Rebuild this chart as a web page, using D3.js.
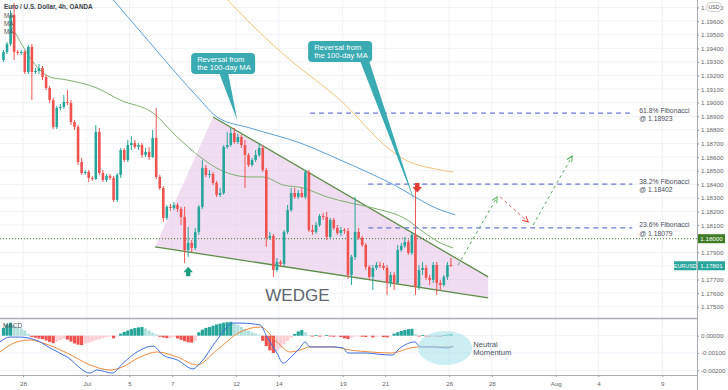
<!DOCTYPE html>
<html><head><meta charset="utf-8">
<script src="https://cdn.jsdelivr.net/npm/d3@7"></script>
<style>
html,body{margin:0;padding:0;background:#fff;}
svg{display:block;font-family:"Liberation Sans",Arial,sans-serif;}
</style></head><body>
<svg id="c" width="728" height="390"></svg>
<script>
// ---------- DATA ----------
// 4h candles, first candle = 25 Jun 2021 00:00, 6 candles per trading day
const openP=[1.19314,1.19373,1.19432,1.19645,1.19373,1.19365,1.19373,1.19226,1.19410,1.19226,
1.19233,1.19255,1.19189,1.19108,1.19020,1.18822,1.18961,1.18969,1.19005,1.18998,
1.18858,1.18822,1.18564,1.18483,1.18491,1.18447,1.18439,1.18785,1.18483,1.18432,
1.18461,1.18447,1.18285,1.18469,1.18652,1.18579,1.18689,1.18704,1.18675,1.18689,
1.18616,1.18638,1.18601,1.18741,1.18454,1.18373,1.18153,1.18234,1.18226,1.18248,
1.18219,1.18160,1.17917,1.17969,1.17932,1.18050,1.18234,1.18520,1.18469,1.18476,
1.18410,1.18322,1.18336,1.18675,1.18689,1.18777,1.18711,1.18748,1.18689,1.18616,
1.18542,1.18579,1.18616,1.18667,1.18505,1.18006,1.18020,1.17770,1.17829,1.17815,
1.18050,1.18211,1.18336,1.18307,1.18336,1.18307,1.18491,1.18064,1.18050,1.18101,
1.18167,1.18160,1.18013,1.18138,1.18079,1.18042,1.18064,1.18057,1.17734,1.17866,
1.18050,1.18006,1.17954,1.17793,1.17719,1.17785,1.17807,1.17800,1.17785,1.17675,
1.17734,1.17675,1.17917,1.17947,1.17976,1.17895,1.18028,1.17646,1.17770,1.17785,
1.17712,1.17697,1.17807,1.17675,1.17660,1.17719,1.17807];
const highP=[1.19387,1.19446,1.19681,1.19733,1.19387,1.19387,1.19387,1.19424,1.19432,1.19255,
1.19285,1.19270,1.19204,1.19123,1.19035,1.18976,1.18991,1.19057,1.19093,1.19020,
1.18873,1.18836,1.18594,1.18505,1.18505,1.18461,1.18836,1.18814,1.18505,1.18476,
1.18476,1.18461,1.18483,1.18667,1.18667,1.18726,1.18755,1.18726,1.18704,1.18704,
1.18667,1.18675,1.18799,1.18961,1.18469,1.18388,1.18248,1.18256,1.18270,1.18263,
1.18234,1.18234,1.18087,1.17991,1.18079,1.18248,1.18579,1.18542,1.18505,1.18491,
1.18425,1.18373,1.18689,1.18785,1.18814,1.18814,1.18770,1.18763,1.18726,1.18630,
1.18594,1.18652,1.18704,1.18689,1.18520,1.18050,1.18035,1.17859,1.17844,1.18064,
1.18248,1.18373,1.18373,1.18358,1.18373,1.18505,1.18505,1.18101,1.18123,1.18182,
1.18189,1.18197,1.18153,1.18153,1.18101,1.18087,1.18079,1.18079,1.17881,1.18307,
1.18079,1.18020,1.17969,1.17807,1.17807,1.17829,1.17829,1.17822,1.17807,1.17756,
1.17756,1.17954,1.17969,1.18013,1.17991,1.18050,1.18358,1.17807,1.17829,1.17807,
1.17734,1.17829,1.17829,1.17697,1.17734,1.17829,1.17859];
const lowP=[1.19299,1.19358,1.19417,1.19314,1.19351,1.19351,1.19211,1.19211,1.19020,1.19211,
1.19211,1.19167,1.19093,1.18998,1.18807,1.18807,1.18946,1.18954,1.18983,1.18836,
1.18799,1.18542,1.18469,1.18469,1.18417,1.18425,1.18432,1.18469,1.18417,1.18417,
1.18432,1.18270,1.18270,1.18447,1.18564,1.18564,1.18652,1.18660,1.18652,1.18594,
1.18601,1.18579,1.18594,1.18439,1.18358,1.18123,1.18138,1.18204,1.18211,1.18197,
1.18101,1.17822,1.17866,1.17903,1.17917,1.18028,1.18219,1.18454,1.18447,1.18395,
1.18307,1.18307,1.18322,1.18660,1.18675,1.18697,1.18697,1.18667,1.18373,1.18528,
1.18528,1.18564,1.18601,1.18491,1.17940,1.17991,1.17719,1.17756,1.17793,1.17800,
1.18035,1.18197,1.18292,1.18292,1.18300,1.18292,1.18050,1.18028,1.18035,1.18087,
1.18138,1.17991,1.17998,1.18064,1.18028,1.18020,1.18035,1.17704,1.17660,1.17844,
1.17991,1.17940,1.17770,1.17697,1.17623,1.17770,1.17785,1.17770,1.17587,1.17646,
1.17623,1.17660,1.17903,1.17932,1.17881,1.17881,1.17587,1.17623,1.17734,1.17697,
1.17660,1.17675,1.17587,1.17623,1.17646,1.17697,1.17793];
const closeP=[1.19373,1.19432,1.19645,1.19373,1.19365,1.19373,1.19226,1.19410,1.19226,1.19233,
1.19255,1.19189,1.19108,1.19020,1.18822,1.18961,1.18969,1.19005,1.18998,1.18858,
1.18822,1.18564,1.18483,1.18491,1.18447,1.18439,1.18785,1.18483,1.18432,1.18461,
1.18447,1.18285,1.18469,1.18652,1.18579,1.18689,1.18704,1.18675,1.18689,1.18616,
1.18638,1.18601,1.18741,1.18454,1.18373,1.18153,1.18234,1.18226,1.18248,1.18219,
1.18160,1.17917,1.17969,1.17932,1.18050,1.18234,1.18520,1.18469,1.18476,1.18410,
1.18322,1.18336,1.18675,1.18689,1.18777,1.18711,1.18748,1.18689,1.18616,1.18542,
1.18579,1.18616,1.18667,1.18505,1.18006,1.18020,1.17770,1.17829,1.17815,1.18050,
1.18211,1.18336,1.18307,1.18336,1.18307,1.18491,1.18064,1.18050,1.18101,1.18167,
1.18160,1.18013,1.18138,1.18079,1.18042,1.18064,1.18057,1.17734,1.17866,1.18050,
1.18006,1.17954,1.17793,1.17719,1.17785,1.17807,1.17800,1.17785,1.17675,1.17734,
1.17675,1.17917,1.17947,1.17976,1.17895,1.18028,1.17646,1.17770,1.17785,1.17712,
1.17697,1.17807,1.17675,1.17660,1.17719,1.17807,1.17801];

// moving averages, sampled at candle indices
const maGreenK=[1.8,13.1,17.9,26.3,32.8,42.1,48.9,55.4,61,69.4,73.1,78.7,84.4,91.1,97.6,104.1,113.7,118.2,123,126.6];
const maGreenV=[1.19586,1.19189,1.19167,1.19108,1.19020,1.18924,1.18748,1.18601,1.18506,1.18454,1.18454,1.18395,1.18373,1.18307,1.18263,1.18226,1.18138,1.18050,1.17969,1.17932];
const maBlueK=[28.6,41.3,55.4,60.1,69.4,83.5,94.8,108.9,123,127.2];
const maBlueV=[1.19828,1.19439,1.19020,1.18895,1.18814,1.18704,1.18579,1.18410,1.18212,1.18175];
const maOrangeK=[61,71.4,80.7,94.8,108.9,111.7,123,126.6];
const maOrangeV=[1.19814,1.19535,1.19314,1.19020,1.18653,1.18601,1.18506,1.18491];

// MACD
const macdK=[-1,1.8,4.6,10.3,13.1,17.9,24.4,26.3,30.6,33.7,38.5,42.1,44.9,48.9,53.4,55.4,60.1,64.7,66.6,72.3,74.2,77,78.7,81.5,83.5,84.9,86.3,92.8,95.6,97,102.4,105.2,109.4,111.7,115.9,117.3,121,124.9,126.6];
const macdV=[-0.00036,-0.00008,-0.00008,-0.00036,-0.00071,-0.00123,-0.00216,-0.00198,-0.00216,-0.00158,-0.00083,-0.00060,-0.00112,-0.00140,-0.00192,-0.00158,-0.00025,0.00073,0.00073,0.00062,-0.00008,-0.00100,-0.00158,-0.00112,-0.00071,-0.00036,-0.00065,-0.00065,-0.00071,-0.00100,-0.00100,-0.00106,-0.00112,-0.00071,-0.00036,-0.00065,-0.00065,-0.00071,-0.00060];
const signalK=[-1,3.8,7.5,11.1,17.9,24.4,30,32.8,38.5,43.2,48.9,54.5,60.1,66.6,72.3,77,80.7,83.5,86.3,92.8,97.6,103.2,109.4,114.5,117.3,126.6];
const signalV=[-0.00094,-0.00036,-0.00025,-0.00042,-0.00100,-0.00169,-0.00198,-0.00187,-0.00123,-0.00094,-0.00123,-0.00169,-0.00083,0.00021,0.00050,-0.00036,-0.00094,-0.00083,-0.00065,-0.00065,-0.00083,-0.00094,-0.00100,-0.00071,-0.00065,-0.00065];
const histV=[0.00045,0.00065,0.00075,0.00060,0.00050,0.00042,0.00030,0.00010,-0.00008,-0.00012,
-0.00016,-0.00020,-0.00028,-0.00036,-0.00043,-0.00035,-0.00025,-0.00018,-0.00022,-0.00034,
-0.00045,-0.00052,-0.00054,-0.00046,-0.00040,-0.00034,-0.00026,-0.00020,-0.00014,-0.00009,
-0.00005,-0.00015,-0.00003,0.00012,0.00022,0.00030,0.00038,0.00044,0.00048,0.00050,
0.00042,0.00030,0.00018,0.00008,-0.00006,-0.00010,-0.00014,-0.00012,-0.00008,-0.00016,
-0.00024,-0.00032,-0.00038,-0.00040,-0.00030,0.00020,0.00035,0.00045,0.00050,0.00058,
0.00065,0.00070,0.00075,0.00078,0.00080,0.00070,0.00062,0.00052,0.00040,0.00030,
0.00020,0.00012,0.00005,-0.00030,-0.00060,-0.00085,-0.00100,-0.00090,-0.00070,-0.00050,
-0.00030,-0.00012,0.00010,0.00025,0.00033,0.00020,0.00004,-0.00004,0.00003,-0.00005,
-0.00004,0.00003,-0.00004,-0.00006,-0.00003,-0.00008,-0.00015,-0.00020,-0.00012,-0.00004,
-0.00003,-0.00006,-0.00008,-0.00004,-0.00010,-0.00006,-0.00004,-0.00008,-0.00010,-0.00004,
0.00012,0.00020,0.00027,0.00033,0.00038,0.00040,0.00010,-0.00004,0.00003,-0.00004,
-0.00005,-0.00003,-0.00004,-0.00005,0.00003,0.00006,0.00010];

// axes
const tickDays=[0,3,5,7,10,12,15,17,20,22,25,27,30];
const tickLabels=["28","Jul","5","7","12","14","19","21","26","28","Aug","4","9"];
const priceTicks=[1.175,1.176,1.177,1.178,1.179,1.180,1.181,1.182,1.183,1.184,1.185,1.186,1.187,1.188,1.189,1.190,1.191,1.192,1.193,1.194,1.195,1.196,1.197];
const macdTicks=[0,-0.001,-0.002];

// annotations (day index, price)
const fibLevels=[1.18923,1.18402,1.18079];
const fibNames=["61.8% Fibonacci","38.2% Fibonacci","23.6% Fibonacci"];
const fibStart=[13.47,16.2,16.2];
const fibEnd=28.59;
const keyLevel=1.18000;
const lastPrice=1.17801;
const wedgeDays=[6.2,8.92,21.83,21.83];
const wedgePrices=[1.17940,1.18895,1.17719,1.17565];
const projDays=[[20.42,22.25],[22.39,23.71],[23.94,25.77]];
const projPrices=[[1.17807,1.18307],[1.18307,1.18123],[1.18101,1.18608]];
const projKinds=["up","down","up"];
const calloutBoxDay=[7.89,13.38], calloutBoxPrice=[1.19365,1.19454];
const calloutTipDay=[10.05,18.40], calloutTipPrice=[1.18873,1.18263];

// ---------- DRAW ----------
const svg=d3.select("#c");
const R=697, mainB=318, macdT=319, macdB=375;
const x=d3.scaleLinear().domain([-1,30]).range([1.7,662.3]);
const xk=k=>x(-1+(k+0.5)/6);
const y=d3.scaleLinear().domain([1.17417,1.19755]).range([mainB,0]);
const ym=d3.scaleLinear().domain([-0.002,0]).range([370.3,335.7]);
const UP="#26a69a", DN="#ef5350";

const defs=svg.append("defs");
defs.append("clipPath").attr("id","cm").append("rect").attr("x",0).attr("y",0).attr("width",R).attr("height",mainB);
defs.append("clipPath").attr("id","cd").append("rect").attr("x",0).attr("y",macdT).attr("width",R).attr("height",macdB-macdT);
[["ag","#4caf50"],["ar","#e53935"]].forEach(([id,c])=>{
  defs.append("marker").attr("id",id).attr("viewBox","0 0 10 10").attr("refX",9).attr("refY",5)
   .attr("markerWidth",7).attr("markerHeight",7).attr("orient","auto")
   .append("path").attr("d","M1,1 L9,5 L1,9").attr("fill","none").attr("stroke",c).attr("stroke-width",1.4);
});

// grid
const grid=svg.append("g");
grid.selectAll(".vg").data(tickDays).enter().append("line")
  .attr("x1",d=>x(d)).attr("x2",d=>x(d)).attr("y1",0).attr("y2",macdB).attr("stroke","#eef1f6");
grid.selectAll(".hg").data(priceTicks).enter().append("line")
  .attr("x1",0).attr("x2",R).attr("y1",d=>y(d)).attr("y2",d=>y(d)).attr("stroke","#eef1f6");
grid.selectAll(".mg").data(macdTicks).enter().append("line")
  .attr("x1",0).attr("x2",R).attr("y1",d=>ym(d)).attr("y2",d=>ym(d)).attr("stroke","#eef1f6");

const main=svg.append("g").attr("clip-path","url(#cm)");

// wedge
const wpts=wedgeDays.map((d,i)=>[x(d),y(wedgePrices[i])]);
main.append("polygon").attr("points",wpts.map(p=>p.join(",")).join(" "))
  .attr("fill","#e8c6e8").attr("fill-opacity",0.6);
main.append("line").attr("x1",wpts[1][0]).attr("y1",wpts[1][1]).attr("x2",wpts[2][0]).attr("y2",wpts[2][1])
  .attr("stroke","#5e8c4a").attr("stroke-width",1.3);
main.append("line").attr("x1",wpts[0][0]).attr("y1",wpts[0][1]).attr("x2",wpts[3][0]).attr("y2",wpts[3][1])
  .attr("stroke","#5e8c4a").attr("stroke-width",1.3);

// key level dotted
main.append("line").attr("x1",0).attr("x2",R).attr("y1",y(keyLevel)).attr("y2",y(keyLevel))
  .attr("stroke","#4f7d2c").attr("stroke-width",1).attr("stroke-dasharray","1,2");

// MAs
const lineGen=d3.line().curve(d3.curveMonotoneX);
function ma(K,V,c){ main.append("path").attr("d",lineGen(K.map((k,i)=>[xk(k),y(V[i])])))
  .attr("fill","none").attr("stroke",c).attr("stroke-width",1); }
ma(maOrangeK,maOrangeV,"#f3c27a");
ma(maBlueK,maBlueV,"#5b9fd8");
ma(maGreenK,maGreenV,"#7fb070");

// candles
const cg=main.append("g");
openP.forEach((o,k)=>{
  const c=closeP[k], col=c>=o?UP:DN, cx=xk(k);
  cg.append("line").attr("x1",cx).attr("x2",cx).attr("y1",y(highP[k])).attr("y2",y(lowP[k])).attr("stroke",col).attr("stroke-width",1);
  const t=y(Math.max(o,c)), b=y(Math.min(o,c));
  cg.append("rect").attr("x",cx-1.3).attr("y",t).attr("width",2.6).attr("height",Math.max(1,b-t)).attr("fill",col);
});

// fib lines
fibLevels.forEach((f,i)=>{
  main.append("line").attr("x1",x(fibStart[i])).attr("x2",x(fibEnd)).attr("y1",y(f)).attr("y2",y(f))
   .attr("stroke","#6b78d6").attr("stroke-width",1.2).attr("stroke-dasharray","5,4");
  const t=main.append("text").attr("font-size",6.8).attr("fill","#4a4f5a");
  t.append("tspan").attr("x",x(fibEnd)+7).attr("y",y(f)-0.5).text(fibNames[i]);
  t.append("tspan").attr("x",x(fibEnd)+7).attr("y",y(f)+8.3).text("@ "+f.toFixed(5));
});

// projections
projDays.forEach((pd,i)=>{
  main.append("line").attr("x1",x(pd[0])).attr("y1",y(projPrices[i][0])).attr("x2",x(pd[1])).attr("y2",y(projPrices[i][1]))
   .attr("stroke",projKinds[i]==="up"?"#5aab5e":"#e85a5a").attr("stroke-width",1).attr("stroke-dasharray","3,3")
   .attr("marker-end",projKinds[i]==="up"?"url(#ag)":"url(#ar)");
});

// arrows
function arrow(cx,ty,dir,col){
  const g=main.append("g");
  if(dir===1){
    g.append("path").attr("d",`M${cx-2.2},${ty} h4.4 v4 h2.6 l-4.8,5.5 l-4.8,-5.5 h2.6 z`).attr("fill",col);
  } else {
    g.append("path").attr("d",`M${cx},${ty} l4.8,5.5 h-2.6 v4 h-4.4 v-4 h-2.6 z`).attr("fill",col);
  }
}
arrow(x(18.5),y(1.18410),1,"#e53935");
arrow(x(7.75),y(1.17793),-1,"#1e9d7f");

// callouts
const TEAL="#3aaab3";
calloutBoxDay.forEach((d,i)=>{
  const bx=x(d), by=y(calloutBoxPrice[i]), bw=64, bh=21;
  const tx=x(calloutTipDay[i]), ty=y(calloutTipPrice[i]);
  const b0 = i===0 ? bx+28 : bx+bw-12, b1 = b0+9;
  main.append("path").attr("d",`M${b0},${by+bh-1} L${tx},${ty} L${b1},${by+bh-1} Z`).attr("fill",TEAL);
  main.append("rect").attr("x",bx).attr("y",by).attr("width",bw).attr("height",bh).attr("rx",4).attr("fill",TEAL);
  const t=main.append("text").attr("font-size",7.6).attr("fill","#fff");
  t.append("tspan").attr("x",bx+6).attr("y",by+9).text("Reversal from");
  t.append("tspan").attr("x",bx+6).attr("y",by+16.8).text("the 100-day MA");
});

// WEDGE text
main.append("text").attr("x",x(11.37)).attr("y",y(1.17565)+3).attr("font-size",17).attr("fill","#5d6470")
  .text("WEDGE");

// header
const hd=svg.append("g").attr("font-size",6.3).attr("fill","#3a3f48");
hd.append("text").attr("x",4).attr("y",9).attr("font-weight","bold").text("Euro / U.S. Dollar, 4h, OANDA");
["MA","MA","MA"].forEach((m,i)=>hd.append("text").attr("x",4).attr("y",17.5+i*8).attr("fill","#555").text(m));

// ---------- MACD ----------
const md=svg.append("g").attr("clip-path","url(#cd)");
histV.forEach((v,k)=>{
  const prev=k>0?histV[k-1]:v;
  let col = v>=0 ? (v>=prev?"#26a69a":"#b2dfdb") : (v<=prev?"#ef5350":"#ffcdd2");
  const y0=ym(0), y1=ym(v);
  md.append("rect").attr("x",xk(k)-1.6).attr("y",Math.min(y0,y1)).attr("width",3.2).attr("height",Math.max(0.8,Math.abs(y1-y0))).attr("fill",col);
});
md.append("path").attr("d",lineGen(signalK.map((k,i)=>[xk(k),ym(signalV[i])]))).attr("fill","none").attr("stroke","#f08a3c").attr("stroke-width",1);
md.append("path").attr("d",lineGen(macdK.map((k,i)=>[xk(k),ym(macdV[i])]))).attr("fill","none").attr("stroke","#3f6fe0").attr("stroke-width",1);
md.append("ellipse").attr("cx",x(19.81)).attr("cy",ym(-0.00071)).attr("rx",27).attr("ry",17)
  .attr("fill","#a8e2ea").attr("fill-opacity",0.6);
const nt=svg.append("text").attr("font-size",7.6).attr("fill","#4a4f5a");
nt.append("tspan").attr("x",x(21.13)).attr("y",ym(-0.00066)).text("Neutral");
nt.append("tspan").attr("x",x(21.13)).attr("y",ym(-0.00066)+7.5).text("Momentum");
svg.append("text").attr("x",3).attr("y",328).attr("font-size",6.5).attr("fill","#555").text("MACD");

// separators / frame
svg.append("line").attr("x1",0).attr("x2",R).attr("y1",mainB+0.5).attr("y2",mainB+0.5).attr("stroke","#a9acb3").attr("stroke-width",1.5);
svg.append("line").attr("x1",R+0.5).attr("x2",R+0.5).attr("y1",0).attr("y2",390).attr("stroke","#a9acb3");
svg.append("line").attr("x1",0).attr("x2",R).attr("y1",macdB+0.5).attr("y2",macdB+0.5).attr("stroke","#a9acb3");

// axes
const hidden=[keyLevel.toFixed(3), (Math.round(lastPrice*1000)/1000).toFixed(3)];
const ax=svg.append("g").attr("transform",`translate(${R},0)`)
  .call(d3.axisRight(y).tickValues(priceTicks.filter(p=>!hidden.includes(p.toFixed(3)))).tickFormat(d3.format(".5f")).tickSize(2).tickPadding(2));
const axm=svg.append("g").attr("transform",`translate(${R},0)`)
  .call(d3.axisRight(ym).tickValues(macdTicks).tickFormat(d=>d===0?"0.00000":"-"+Math.abs(d).toFixed(5)).tickSize(2).tickPadding(2));
const axb=svg.append("g").attr("transform",`translate(0,${macdB})`)
  .call(d3.axisBottom(x).tickValues(tickDays).tickFormat((d,i)=>tickLabels[i]).tickSize(2).tickPadding(3));
[ax,axm,axb].forEach(a=>{
  a.select(".domain").remove();
  a.selectAll("line").attr("stroke","#999");
  a.selectAll("text").attr("font-size",6.2).attr("fill","#666").attr("font-family","Liberation Sans, Arial, sans-serif");
});
axb.selectAll("text").attr("dy","0.9em");

// badges on axis
function badge(px,py,w,txt,bg,fg,fs){
  svg.append("rect").attr("x",px).attr("y",py-4.5).attr("width",w).attr("height",9).attr("fill",bg);
  svg.append("text").attr("x",px+w/2).attr("y",py+2.2).attr("text-anchor","middle").attr("font-size",fs||6.2).attr("fill",fg).text(txt);
}
badge(R+1,y(keyLevel),27,keyLevel.toFixed(5),"#3f7b25","#fff");
badge(R+1,y(lastPrice),27,lastPrice.toFixed(5),"#26a69a","#fff");
badge(R-23,y(lastPrice),22.5,"EURUSD","#26a69a","#fff",5.4);
svg.append("rect").attr("x",707).attr("y",2.5).attr("width",14).attr("height",9).attr("rx",3).attr("fill","#fff").attr("stroke","#bbb").attr("stroke-width",0.7);
svg.append("text").attr("x",714).attr("y",9.2).attr("text-anchor","middle").attr("font-size",5.3).attr("fill","#555").text("USD");
</script></body></html>
